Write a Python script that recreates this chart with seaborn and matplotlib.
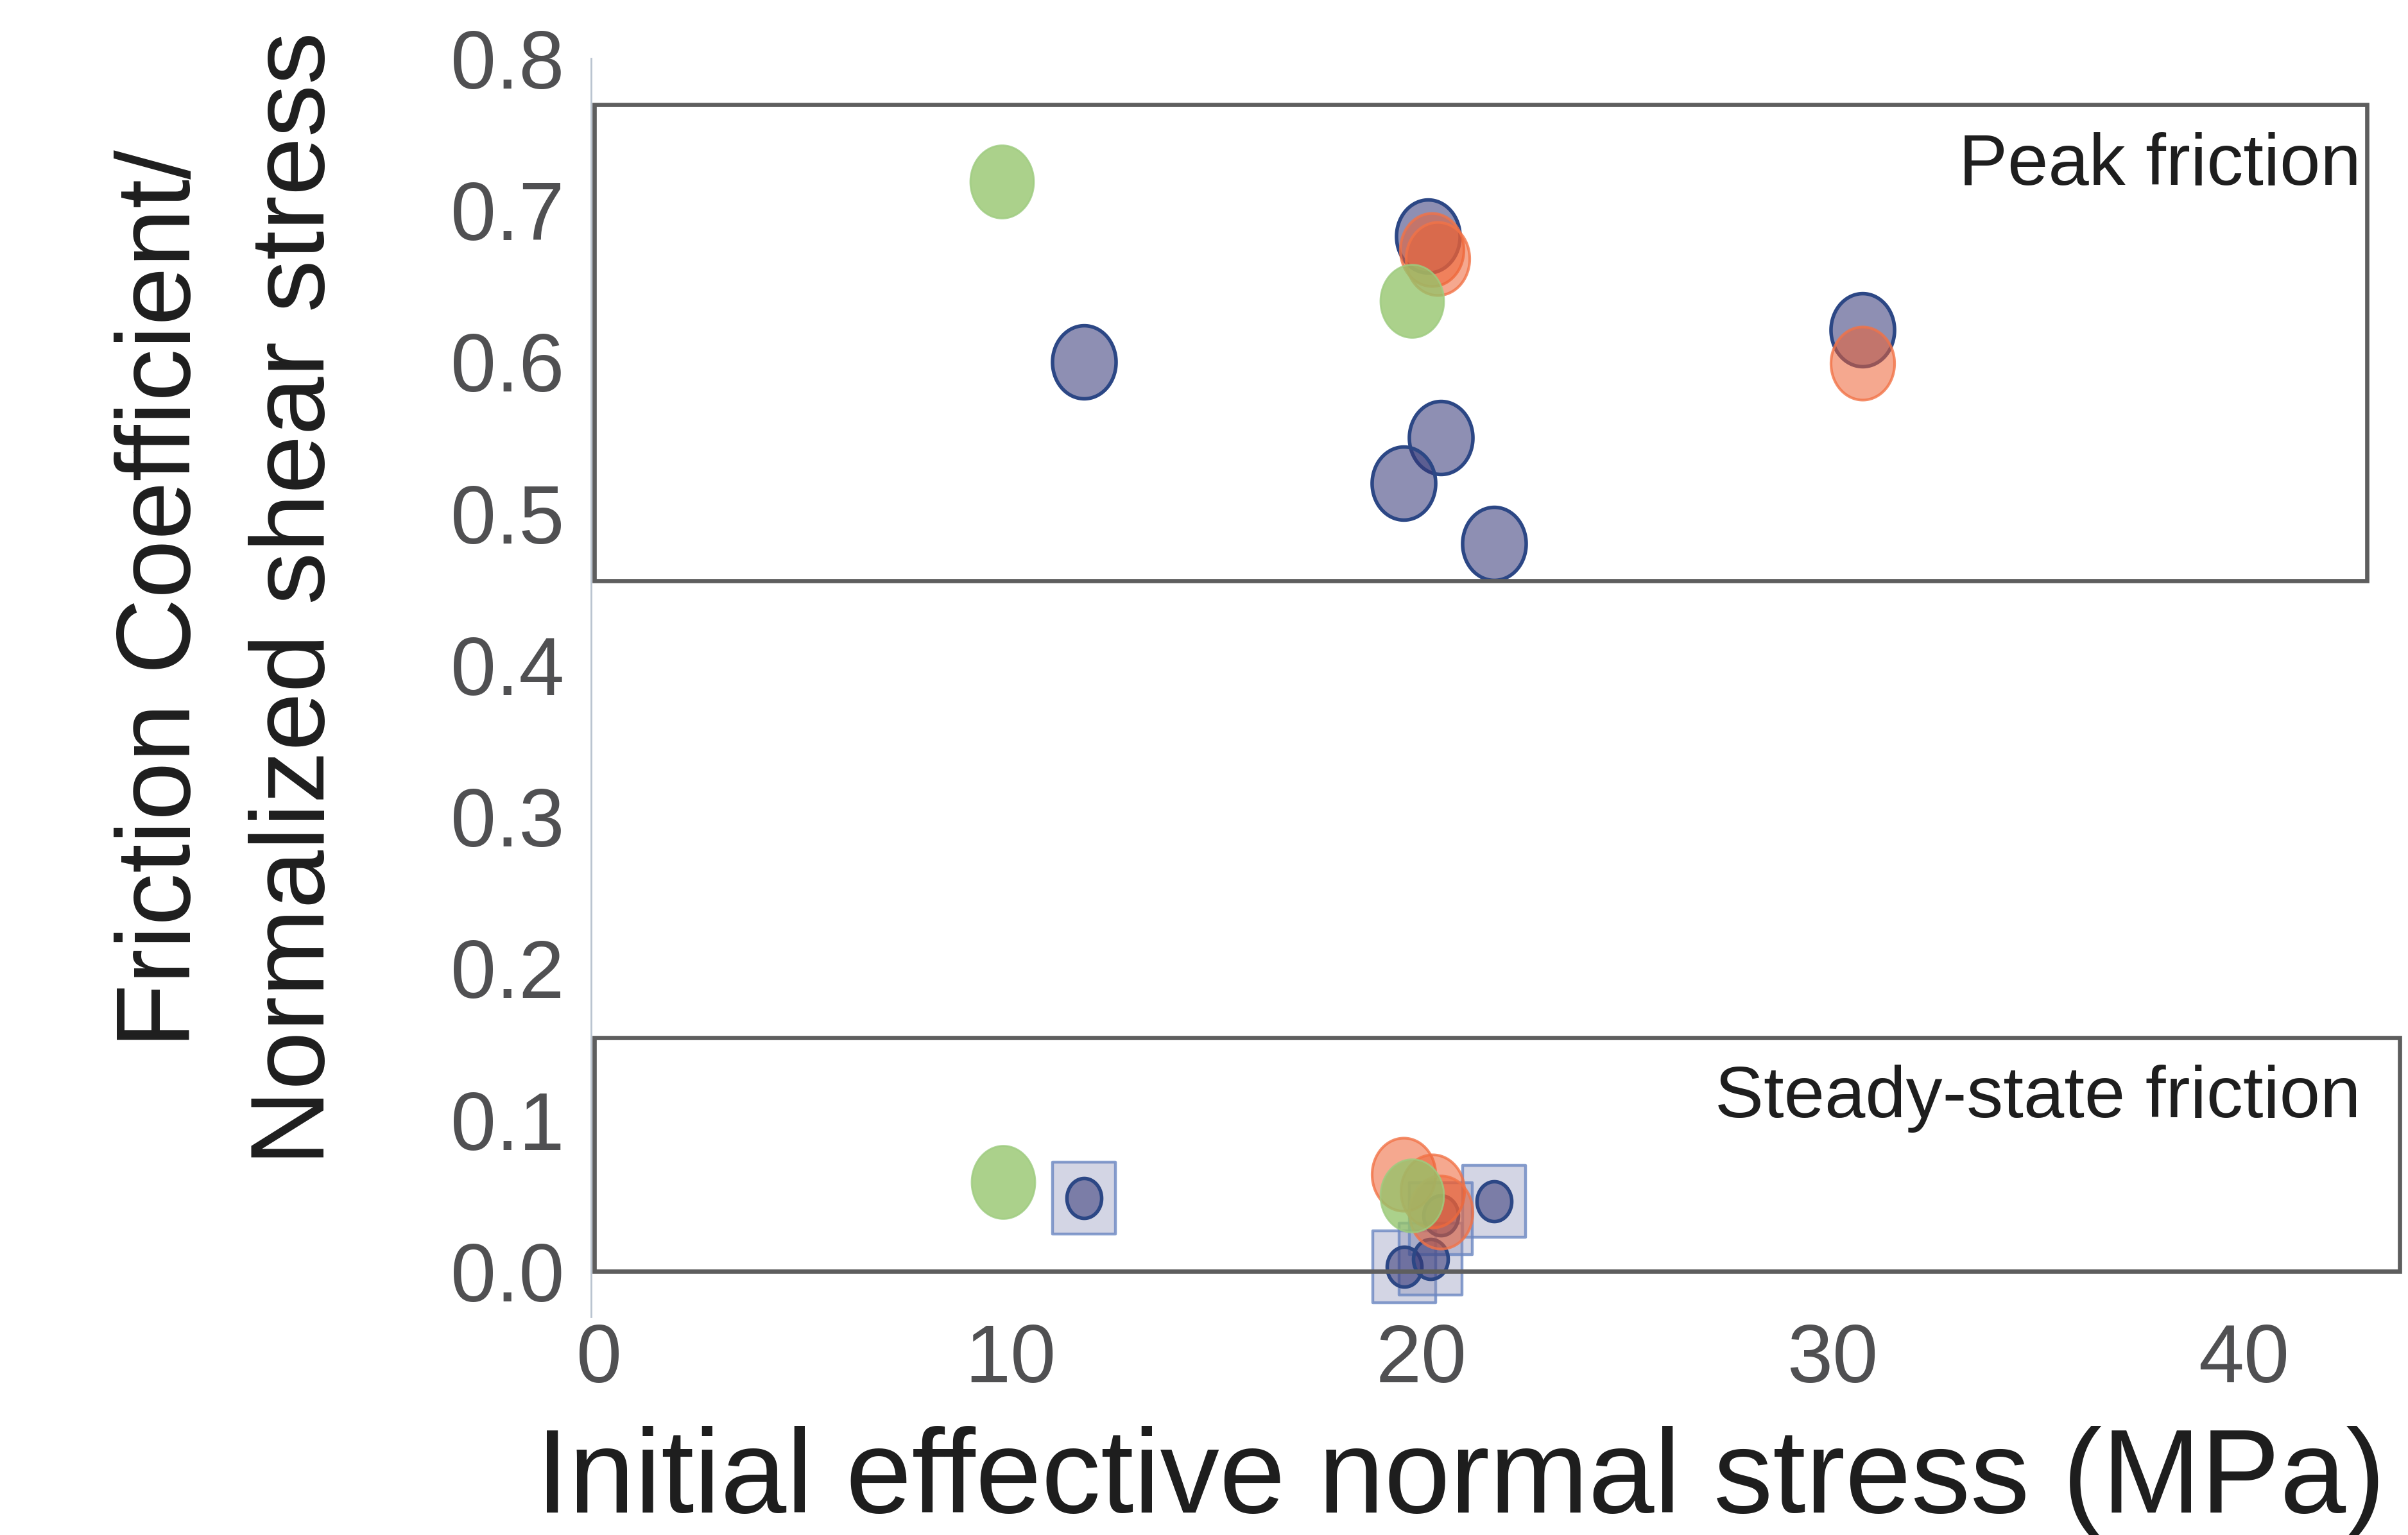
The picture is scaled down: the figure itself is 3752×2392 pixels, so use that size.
import numpy as np
import pandas as pd
import matplotlib
matplotlib.use("Agg")
import matplotlib.pyplot as plt
from matplotlib.path import Path
from matplotlib.patches import Rectangle
import seaborn as sns

# ---------------- data ----------------
# Peak friction
peak_navy_x = [11.8, 20.17, 30.73, 20.47, 19.57, 21.77]
peak_navy_y = [0.600, 0.683, 0.621, 0.550, 0.520, 0.480]
peak_orange_x = [20.25, 20.40, 30.73]
peak_orange_y = [0.674, 0.668, 0.599]
peak_green_x = [9.8, 19.77]
peak_green_y = [0.719, 0.640]

# Steady-state friction
ss_navy_x = [11.8, 21.77, 19.58, 20.22, 20.47]
ss_navy_y = [0.0486, 0.0463, 0.0030, 0.0083, 0.0370]
ss_square_x = [11.8, 21.77, 19.58, 20.22, 20.47]
ss_square_y = [0.0486, 0.0463, 0.0030, 0.0083, 0.0350]
ss_orange_x = [19.57, 20.27, 20.48]
ss_orange_y = [0.064, 0.053, 0.039]
ss_green_x = [9.83, 19.78]
ss_green_y = [0.059, 0.050]

x_ticks = [0, 10, 20, 30, 40]
y_ticks = [0.0, 0.1, 0.2, 0.3, 0.4, 0.5, 0.6, 0.7, 0.8]
y_tick_labels = ["0.0", "0.1", "0.2", "0.3", "0.4", "0.5", "0.6", "0.7", "0.8"]

peak_box = dict(x0=-0.12, x1=43.0, y0=0.4557, y1=0.7697, label="Peak friction")
ss_box = dict(x0=-0.11, x1=43.8, y0=0.0, y1=0.1542, label="Steady-state friction")

# ---------------- style ----------------
sns.set_theme(style="white")
plt.rcParams["font.family"] = ["Liberation Sans", "DejaVu Sans"]

fig = plt.figure(figsize=(18.76, 11.96), dpi=200)
ax = fig.add_axes([0.2455, 0.142, 0.7545, 0.8198])
ax.set_xlim(-0.19, 44.0)
ax.set_ylim(-0.03, 0.8)

asp = 0.87
th = np.linspace(0, 2 * np.pi, 120)
ell = Path(np.column_stack([asp * np.cos(th), np.sin(th)]), closed=True)
rect = Path([[-asp, -1], [asp, -1], [asp, 1], [-asp, 1], [-asp, -1]], closed=True)

navy_face = (0.21, 0.22, 0.47, 0.56)
navy_edge = "#2c4785"
orange_face = (0.93, 0.38, 0.20, 0.55)
orange_edge = (0.95, 0.45, 0.28, 0.8)
green_face = (0.58, 0.77, 0.42, 0.78)
green_edge = (0.62, 0.80, 0.50, 0.8)
sq_face = (0.55, 0.57, 0.72, 0.38)
sq_edge = (0.42, 0.53, 0.76, 0.8)

S_BIG = 1680
S_SMALL = 500
S_SQ = 1640

def sc(xs, ys, marker, s, fc, ec, lw, z):
    df = pd.DataFrame({"x": xs, "y": ys})
    sns.scatterplot(data=df, x="x", y="y", ax=ax, marker=marker, s=s,
                    facecolor=fc, edgecolor=ec, linewidth=lw, zorder=z,
                    clip_on=False, legend=False)

# peak
sc(peak_navy_x, peak_navy_y, ell, S_BIG, navy_face, navy_edge, 2.0, 3)
sc(peak_orange_x, peak_orange_y, ell, S_BIG, orange_face, orange_edge, 1.5, 4)
sc(peak_green_x, peak_green_y, ell, S_BIG, green_face, green_edge, 1.0, 5)
# steady state
sc(ss_square_x, ss_square_y, rect, S_SQ, sq_face, sq_edge, 1.6, 2)
sc(ss_navy_x, ss_navy_y, ell, S_SMALL, navy_face, navy_edge, 2.0, 3)
sc(ss_orange_x, ss_orange_y, ell, S_BIG, orange_face, orange_edge, 1.5, 4)
sc(ss_green_x, ss_green_y, ell, S_BIG, green_face, green_edge, 1.0, 5)

# boxes
for b in (peak_box, ss_box):
    ax.add_patch(Rectangle((b["x0"], b["y0"]), b["x1"] - b["x0"], b["y1"] - b["y0"],
                           fill=False, edgecolor="#5e5e5e", linewidth=2.4,
                           zorder=6, clip_on=False))
ax.text(42.85, 0.7515, peak_box["label"], ha="right", va="top", fontsize=41,
        color="#1e1e1e", zorder=7)
ax.text(42.85, 0.1365, ss_box["label"], ha="right", va="top", fontsize=41,
        color="#1e1e1e", zorder=7)

# axes styling
for sp in ("top", "right", "bottom"):
    ax.spines[sp].set_visible(False)
ax.spines["left"].set_color("#b9c3cf")
ax.spines["left"].set_linewidth(1.0)
ax.set_xticks(x_ticks)
ax.set_xticklabels([str(t) for t in x_ticks])
ax.set_yticks(y_ticks)
ax.set_yticklabels(y_tick_labels)
ax.tick_params(axis="both", length=0, labelsize=46, labelcolor="#505052")
ax.tick_params(axis="y", pad=15)
ax.tick_params(axis="x", pad=3)
ax.set_xlabel("")
ax.set_ylabel("")
ax.grid(False)

fig.text(0.6066, 0.0145, "Initial effective normal stress (MPa)", ha="center",
         va="baseline", fontsize=66.5, color="#1e1e1e")
fig.text(0.0955, 0.61, "Friction Coefficient/\nNormalized shear stress", ha="center",
         va="center", rotation=90, fontsize=59, color="#1e1e1e",
         multialignment="center", linespacing=1.48)

fig.savefig("out.png", dpi=200, facecolor="white")
